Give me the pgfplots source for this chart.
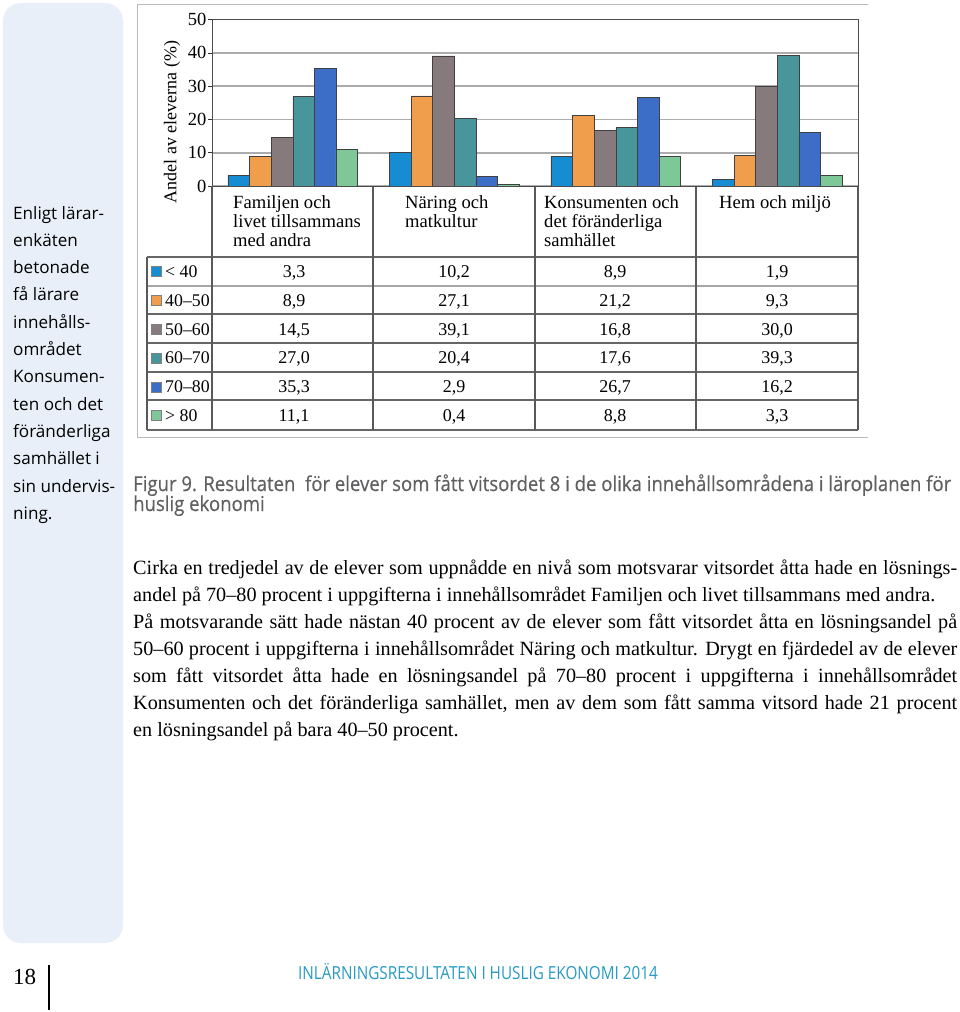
\documentclass[border=0pt]{standalone}
\usepackage{fontspec}
\usepackage{pgfplots}
\pgfplotsset{compat=1.18}
\setmainfont{Liberation Serif}
\newfontfamily\chartfont{Liberation Serif}
\newfontfamily\bodyfont{Liberation Serif}
\newfontfamily\capfont[FakeStretch=0.905,FakeBold=0.4]{Open Sans}
\newfontfamily\sidefont{Open Sans}
\newfontfamily\footfont[FakeStretch=0.85]{Open Sans}
\definecolor{cA}{RGB}{22,140,210}
\definecolor{cB}{RGB}{240,158,75}
\definecolor{cC}{RGB}{135,122,125}
\definecolor{cD}{RGB}{72,150,155}
\definecolor{cE}{RGB}{60,110,200}
\definecolor{cF}{RGB}{125,200,150}
\definecolor{sidebg}{RGB}{232,239,248}
\definecolor{foot}{RGB}{40,155,195}
\definecolor{capgray}{RGB}{96,96,98}
\begin{document}
\begin{tikzpicture}[x=1pt,y=-1pt]
\fill[white] (0,0) rectangle (960,1012);
% sidebar
\fill[sidebg,rounded corners=18pt] (3,3) rectangle (123,943);
\foreach \t [count=\i from 0] in {Enligt lärar-,enkäten,betonade,få lärare,innehålls-,området,Konsumen-,ten och det,föränderliga,samhället i,sin undervis-,ning.}{
  \node[anchor=base west,inner sep=0pt,font=\sidefont\fontsize{17.1}{20}\selectfont] at (13,{219+27.3*\i}) {\t};
}
% outer chart frame
\draw[gray!55,line width=1pt] (868,4) -- (137,4) -- (137,437) -- (868,437);
% bar chart
\begin{axis}[
  at={(212pt,-186pt)}, anchor=south west,
  scale only axis, width=646pt, height=166.5pt,
  xmin=-0.5, xmax=3.5, ymin=0, ymax=50,
  ytick={0,10,20,30,40,50}, xtick=\empty,
  ytick pos=left, tick align=outside, major tick length=4pt,
  tick style={black!80,line width=0.6pt},
  ymajorgrids, grid style={gray!65,line width=1.8pt},
  axis line style={black!70,line width=0.8pt},
  /pgf/number format/assume math mode=true,
  yticklabel style={font=\chartfont\fontsize{18.5}{18}\selectfont,inner sep=1.5pt},
  ylabel={Andel av eleverna (\%)},
  ylabel style={font=\chartfont\fontsize{18}{18}\selectfont,at={(axis description cs:-0.062,0.385)},anchor=center},
  ybar, bar width=21.6pt,
  every axis plot/.append style={draw=black!75,line width=0.5pt},
]
\addplot[fill=cA,bar shift=-54pt] coordinates {(0,3.3) (1,10.2) (2,8.9) (3,1.9)};
\addplot[fill=cB,bar shift=-32.4pt] coordinates {(0,8.9) (1,27.1) (2,21.2) (3,9.3)};
\addplot[fill=cC,bar shift=-10.8pt] coordinates {(0,14.5) (1,39.1) (2,16.8) (3,30.0)};
\addplot[fill=cD,bar shift=10.8pt] coordinates {(0,27.0) (1,20.4) (2,17.6) (3,39.3)};
\addplot[fill=cE,bar shift=32.4pt] coordinates {(0,35.3) (1,2.9) (2,26.7) (3,16.2)};
\addplot[fill=cF,bar shift=54pt] coordinates {(0,11.1) (1,0.4) (2,8.8) (3,3.3)};
\end{axis}
% table lines
\foreach \yy in {257,314,343,372,400,430}{\draw[black!60,line width=1.1pt] (147,\yy) -- (858,\yy);}
\draw[gray!70,line width=2.2pt] (147,286) -- (858,286);
\draw[black!65,line width=1.1pt] (147,257) -- (147,430);
\foreach \xx in {212,373,535,696,858}{\draw[black!65,line width=1.1pt] (\xx,186) -- (\xx,430);}
\draw[black!70,line width=0.9pt] (212,186) -- (858,186);
% header labels
\begin{scope}[every node/.style={anchor=base west,inner sep=0pt,font=\chartfont\fontsize{18.6}{19}\selectfont}]
\node at (233,208) {Familjen och};
\node at (233,227) {livet tillsammans};
\node at (233,246) {med andra};
\node at (405,208) {Näring och};
\node at (405,227) {matkultur};
\node at (544,208) {Konsumenten och};
\node at (544,227) {det föränderliga};
\node at (544,246) {samhället};
\node at (719,208) {Hem och miljö};
\end{scope}
% legend column
\begin{scope}[every node/.style={anchor=base west,inner sep=0pt,font=\chartfont\fontsize{17.8}{19}\selectfont}]
\foreach \c/\lab [count=\i from 0] in {cA/{< 40},cB/{40–50},cC/{50–60},cD/{60–70},cE/{70–80},cF/{> 80}}{
  \pgfmathsetmacro{\yc}{271.5+28.8*\i}
  \filldraw[fill=\c,draw=black!50,line width=0.4pt] (151,\yc-5) rectangle (161,\yc+5);
  \node at (165,\yc+6) {\lab};
}
\end{scope}
% table values
\begin{scope}[every node/.style={anchor=base,inner sep=0pt,font=\chartfont\fontsize{18}{19}\selectfont}]
\node at (294,277.5) {3,3};  \node at (454,277.5) {10,2}; \node at (615,277.5) {8,9};  \node at (777,277.5) {1,9};
\node at (294,306.3) {8,9};  \node at (454,306.3) {27,1}; \node at (615,306.3) {21,2}; \node at (777,306.3) {9,3};
\node at (294,335.1) {14,5}; \node at (454,335.1) {39,1}; \node at (615,335.1) {16,8}; \node at (777,335.1) {30,0};
\node at (294,363.9) {27,0}; \node at (454,363.9) {20,4}; \node at (615,363.9) {17,6}; \node at (777,363.9) {39,3};
\node at (294,392.7) {35,3}; \node at (454,392.7) {2,9};  \node at (615,392.7) {26,7}; \node at (777,392.7) {16,2};
\node at (294,421.5) {11,1}; \node at (454,421.5) {0,4};  \node at (615,421.5) {8,8};  \node at (777,421.5) {3,3};
\end{scope}
% caption
\begin{scope}[every node/.style={anchor=base west,inner sep=0pt,text=capgray,font=\capfont\fontsize{20.5}{20}\selectfont}]
\node at (133,491) {Figur 9. Resultaten \ för elever som fått vitsordet 8 i de olika innehållsområdena i läroplanen för};
\node at (133,511) {huslig ekonomi};
\end{scope}
% body text
\begin{scope}[every node/.style={anchor=base west,inner sep=0pt,font=\bodyfont\fontsize{20.2}{27}\selectfont}]
\node at (133,574) {\makebox[824pt][s]{Cirka en tredjedel av de elever som uppnådde en nivå som motsvarar vitsordet åtta hade en lösnings-}};
\node at (133,601) {andel på 70–80 procent i uppgifterna i innehållsområdet Familjen och livet tillsammans med andra.};
\node at (133,628) {\makebox[824pt][s]{På motsvarande sätt hade nästan 40 procent av de elever som fått vitsordet åtta en lösningsandel på}};
\node at (133,655) {\makebox[824pt][s]{50–60 procent i uppgifterna i innehållsområdet Näring och matkultur. Drygt en fjärdedel av de elever}};
\node at (133,682) {\makebox[824pt][s]{som fått vitsordet åtta hade en lösningsandel på 70–80 procent i uppgifterna i innehållsområdet}};
\node at (133,709) {\makebox[824pt][s]{Konsumenten och det föränderliga samhället, men av dem som fått samma vitsord hade 21 procent}};
\node at (133,736) {en lösningsandel på bara 40–50 procent.};
\end{scope}
% footer
\node[anchor=base west,inner sep=0pt,font=\chartfont\fontsize{23}{23}\selectfont] at (13,984) {18};
\draw[black,line width=1.2pt] (49,965) -- (49,1010);
\node[anchor=base,inner sep=0pt,text=foot,font=\footfont\fontsize{18}{18}\selectfont] at (478,979) {INLÄRNINGSRESULTATEN I HUSLIG EKONOMI 2014};
\pgfresetboundingbox
\path[use as bounding box] (0,0) rectangle (960,1012);
\end{tikzpicture}
\end{document}
